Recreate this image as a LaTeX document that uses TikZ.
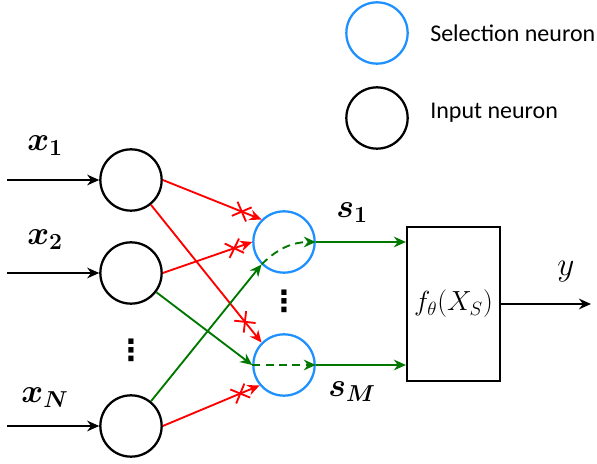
\documentclass[tikz,border=0pt]{standalone}
\usepackage{amsmath,bm}
\usepackage{fontspec}
\setmainfont{Carlito}
\newfontfamily\symfont{DejaVu Sans}
\usetikzlibrary{arrows.meta,shapes.misc}
\definecolor{selblue}{RGB}{30,144,255}
\definecolor{arrgreen}{RGB}{0,120,0}
\begin{document}
\begin{tikzpicture}[x=0.75pt, y=0.75pt, font=\fontsize{18}{21}\selectfont,
  inneuron/.style={circle, draw, line width=1.7pt, minimum size=46pt, inner sep=0pt},
  selneuron/.style={inneuron, draw=selblue},
  arr/.style={line width=1.4pt, -{Stealth[length=9pt,width=8pt]}},
  cut/.style={pos=0.8, sloped, cross out, draw=red, line width=1.4pt, minimum size=10pt, inner sep=0pt},
  lbl/.style={font=\fontsize{23}{27}\selectfont},
  vdot/.style={font=\symfont\bfseries\fontsize{22}{26}\selectfont}]
  \useasboundingbox (0,0) rectangle (597,464);
  % legend
  \node[selneuron] (legsel) at (377,431) {};
  \node[inneuron] (legin) at (377,346) {};
  \node[anchor=west, inner sep=0pt] (legseltxt) at (430,431) {Selection neuron};
  \node[anchor=west, inner sep=0pt] (legintxt) at (430,351) {Input neuron};
  % input neurons
  \node[inneuron] (in1) at (131,284) {};
  \node[inneuron] (in2) at (131,191) {};
  \node[inneuron] (inN) at (131,38) {};
  \node[vdot] (dotsin) at (131,114) {⋮};
  \coordinate (src1) at (7,284);
  \coordinate (src2) at (7,191);
  \coordinate (srcN) at (7,38);
  \draw[arr] (src1) -- (in1);
  \draw[arr] (src2) -- (in2);
  \draw[arr] (srcN) -- (inN);
  \node[lbl] (lx1) at (45,318) {$\bm{x_1}$};
  \node[lbl] (lx2) at (45,224) {$\bm{x_2}$};
  \node[lbl] (lxN) at (45,66) {$\bm{x_N}$};
  % selection neurons
  \node[selneuron] (sel1) at (284,222) {};
  \node[selneuron] (selM) at (284,99) {};
  \node[vdot] (dotssel) at (284,163) {⋮};
  % dropped links
  \draw[arr, red] (in1.east) -- node[cut] {} (sel1.135);
  \draw[arr, red] (in1) -- node[cut, pos=0.85] {} (selM.135);
  \draw[arr, red] (in2.east) -- node[cut] {} (sel1.west);
  \draw[arr, red] (inN.east) -- node[cut] {} (selM.220);
  % kept links
  \draw[arr, arrgreen] (in2) -- (selM.west);
  \draw[arr, arrgreen] (inN) -- (sel1.225);
  \draw[arr, arrgreen, dash pattern=on 6pt off 4pt] (sel1.225) to[out=45, in=180] (sel1.east);
  \draw[arr, arrgreen, dash pattern=on 6pt off 4pt] (selM.west) -- (selM.east);
  % model
  \node[draw, line width=1.4pt, minimum width=70pt, minimum height=115.5pt, font=\fontsize{20}{24}\selectfont] (fnet) at (453.5,160) {$f_\theta(X_S)$};
  \draw[arr, arrgreen] (sel1.east) -- (sel1.east -| fnet.west);
  \draw[arr, arrgreen] (selM.east) -- (selM.east -| fnet.west);
  \node[lbl] (ls1) at (352,251) {$\bm{s_1}$};
  \node[lbl] (lsM) at (352,72) {$\bm{s_M}$};
  \coordinate (outp) at (591,160);
  \draw[arr] (fnet.east) -- (outp);
  \node[lbl] (ly) at (566,192) {$y$};
\end{tikzpicture}
\end{document}
